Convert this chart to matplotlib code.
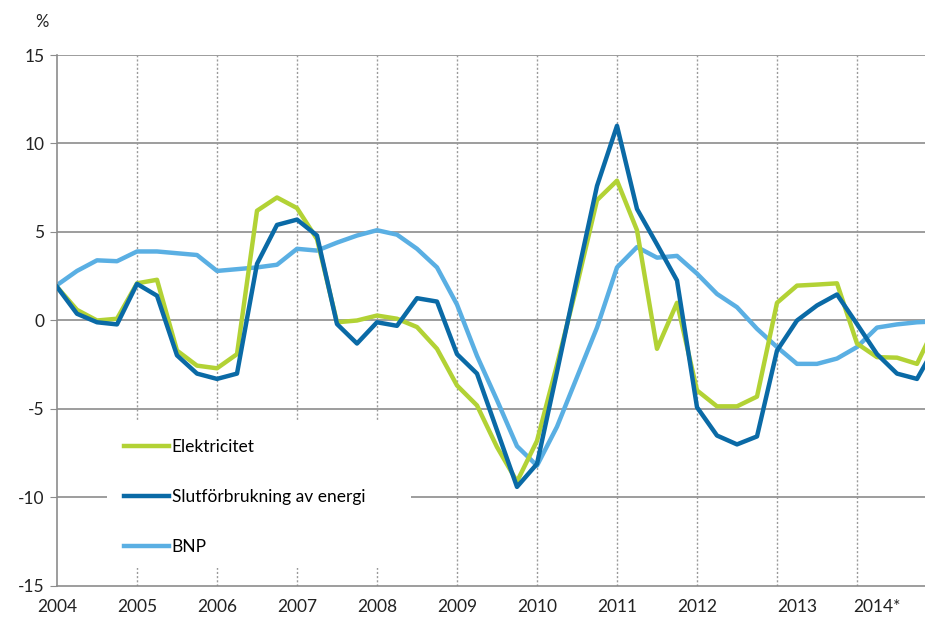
import numpy as np
import matplotlib
matplotlib.use("Agg")
import matplotlib.pyplot as plt
from matplotlib.patches import Rectangle

plt.rcParams['font.family'] = ['Lato', 'DejaVu Sans']
plt.rcParams['axes.unicode_minus'] = False

# quarterly growth, 2004 Q1 onwards (last value is clipped at the right edge)
elektricitet = [1.9, 0.6, 0.0, 0.1, 2.1, 2.3, -1.7, -2.55, -2.7, -1.9,
                6.2, 6.95, 6.35, 4.6, -0.1, 0.0, 0.28, 0.1, -0.37, -1.6,
                -3.67, -4.8, -7.15, -9.1, -6.8, -2.5, 2.0, 6.8, 7.9, 5.1,
                -1.6, 1.0, -3.95, -4.85, -4.85, -4.3, 1.0, 1.97, 2.03, 2.1,
                -1.3, -2.07, -2.1, -2.45, -0.1]
slutforbrukning = [1.9, 0.38, -0.1, -0.22, 2.07, 1.4, -1.97, -3.0, -3.3, -3.0,
                   3.2, 5.4, 5.7, 4.8, -0.2, -1.3, -0.1, -0.3, 1.26, 1.07,
                   -1.9, -3.0, -6.2, -9.4, -8.1, -2.9, 2.4, 7.6, 11.0, 6.3,
                   4.3, 2.26, -4.9, -6.5, -7.0, -6.55, -1.7, 0.0, 0.85, 1.47,
                   -0.2, -1.9, -3.0, -3.3, -1.3]
bnp = [2.0, 2.8, 3.4, 3.35, 3.9, 3.9, 3.8, 3.7, 2.8, 2.9,
       3.0, 3.15, 4.05, 3.95, 4.4, 4.8, 5.1, 4.85, 4.05, 3.0,
       0.9, -2.0, -4.5, -7.1, -8.2, -6.0, -3.2, -0.4, 3.0, 4.15,
       3.55, 3.65, 2.65, 1.5, 0.75, -0.47, -1.5, -2.45, -2.45, -2.15,
       -1.5, -0.4, -0.22, -0.1, -0.05]

year_labels = ["2004", "2005", "2006", "2007", "2008", "2009", "2010",
               "2011", "2012", "2013", "2014*"]
year_label_pos = [0, 4, 8, 12, 16, 20, 24, 28, 32, 37, 41]

c_el = "#b2d235"
c_slut = "#0a6aa6"
c_bnp = "#5aafe3"
grid_c = "#8c8c8c"

fig = plt.figure(figsize=(9.25, 6.26), dpi=100)
ax = fig.add_axes([57 / 925, 1 - 586 / 626, 1 - 57 / 925, (586 - 55) / 626])

x = np.arange(len(bnp))
ax.plot(x, elektricitet, color=c_el, lw=3.2, label="Elektricitet", zorder=3)
ax.plot(x, slutforbrukning, color=c_slut, lw=3.2, label="Slutförbrukning av energi", zorder=4)
ax.plot(x, bnp, color=c_bnp, lw=3.2, label="BNP", zorder=2)

ax.set_xlim(0, 43.4)
ax.set_ylim(-15, 15)
ax.set_yticks(np.arange(-15, 16, 5))
ax.set_xticks(year_label_pos)
ax.set_xticklabels(year_labels)

for yv in np.arange(-10, 16, 5):
    ax.axhline(yv, color=grid_c, lw=1.2, zorder=0.5)
for xv in range(4, 44, 4):
    ax.axvline(xv, color="#9a9a9a", lw=1.0, ls=(0, (1.5, 1.5)), zorder=0.5)

for s in ["top", "right"]:
    ax.spines[s].set_visible(False)
for s in ["left", "bottom"]:
    ax.spines[s].set_color(grid_c)
    ax.spines[s].set_linewidth(1.2)

ax.tick_params(axis="y", length=5, color=grid_c, labelsize=12.5, pad=4, labelcolor="#222222")
ax.tick_params(axis="x", length=0, labelsize=12.5, pad=9, labelcolor="#222222")

# white patch behind the legend, hides the grid there
ax.add_patch(Rectangle((2.5, -14.0), 15.2, 8.3, facecolor="white", edgecolor="none",
                       zorder=1))
leg = ax.legend(loc="upper left", bbox_to_anchor=((117 - 57) / 868, 1 - (432 - 55) / 531),
                frameon=False, fontsize=12.5, handlelength=2.6, handletextpad=0.15,
                labelspacing=1.95, borderaxespad=0)
leg.set_zorder(5)

fig.text(42 / 925, 1 - 22 / 626, "%", fontsize=12, ha="center", va="center", color="#222222")

fig.savefig("out.png", dpi=100)
